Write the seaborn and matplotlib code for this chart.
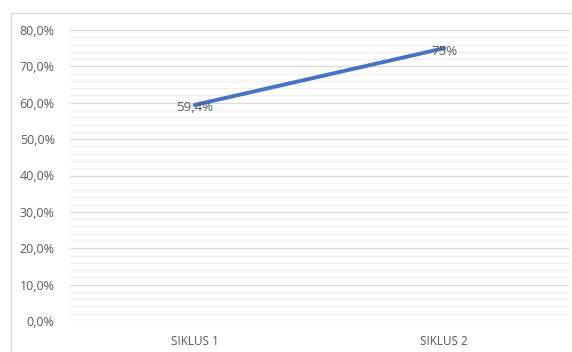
import matplotlib
matplotlib.use("Agg")
import matplotlib.pyplot as plt
import seaborn as sns
import pandas as pd
import numpy as np
from matplotlib.patches import Rectangle

categories = ["SIKLUS 1", "SIKLUS 2"]
values = [59.4, 75.0]
point_labels = ["59,4%", "75%"]
y_ticks = [0, 10, 20, 30, 40, 50, 60, 70, 80]
y_tick_labels = ["0,0%", "10,0%", "20,0%", "30,0%", "40,0%", "50,0%", "60,0%", "70,0%", "80,0%"]

sns.set_theme(style="white")
plt.rcParams['font.family'] = ['Open Sans', 'DejaVu Sans']

df = pd.DataFrame({"siklus": categories, "nilai": values})

fig = plt.figure(figsize=(5.72, 3.52), dpi=100)
fig.patch.set_facecolor("white")
ax = fig.add_axes([70/572, (352-321)/352, (569-70)/572, (321-30)/352])

# chart border
fig.patches.append(Rectangle((11/572, -0.1), 1.2, (352-13)/352 + 0.1,
                             transform=fig.transFigure, fill=False,
                             edgecolor="#d9d9d9", linewidth=1.0))

ax.set_ylim(0, 80)
ax.set_xlim(-0.5, 1.5)
# minor gridlines
for v in np.arange(0, 81, 2):
    if v % 10 != 0:
        ax.axhline(v, color="#efefef", linewidth=0.9, zorder=0)
for v in y_ticks:
    ax.axhline(v, color="#d9d9d9", linewidth=0.9, zorder=0.5)

sns.lineplot(data=df, x="siklus", y="nilai", ax=ax, color="#4472C4",
             linewidth=2.8, sort=False, zorder=3)

for i, (v, lab) in enumerate(zip(values, point_labels)):
    ax.text(i, v - 0.8, lab, ha="center", va="center",
            color="#595959", fontsize=9.5, zorder=4)

ax.set_yticks(y_ticks)
ax.set_yticklabels(y_tick_labels)
ax.set_xticks(range(len(categories)))
ax.set_xticklabels(categories)
ax.tick_params(axis="y", length=0, pad=11, labelsize=9, labelcolor="#595959")
ax.tick_params(axis="x", length=0, pad=10, labelsize=8.5, labelcolor="#595959")
ax.set_xlabel("")
ax.set_ylabel("")
for s in ax.spines.values():
    s.set_visible(False)

fig.savefig("out.png", dpi=100)
